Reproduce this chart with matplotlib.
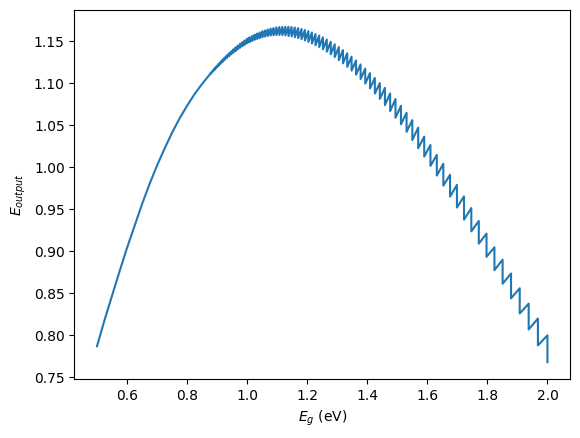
import numpy as np
import matplotlib
matplotlib.use("Agg")
import matplotlib.pyplot as plt

# smooth part of the curve (low band gap)
eg_smooth = [0.500, 0.525, 0.550, 0.575, 0.600, 0.625, 0.650, 0.675, 0.700, 0.725,
             0.750, 0.775, 0.800, 0.825, 0.850, 0.875]
out_smooth = [0.787, 0.818, 0.847, 0.876, 0.904, 0.930, 0.956, 0.980, 1.002, 1.022,
              1.041, 1.058, 1.073, 1.087, 1.099, 1.110]

# sawtooth part: band gap where each drop happens, value just before and just after
eg_drop = [0.8794, 0.8857, 0.8921, 0.8986, 0.9051, 0.9118, 0.9185, 0.9254, 0.9323, 0.9394,
           0.9466, 0.9538, 0.9612, 0.9688, 0.9764, 0.9841, 0.9920,
           1.0000, 1.0081, 1.0164, 1.0248, 1.0333, 1.0420, 1.0508, 1.0598, 1.0690, 1.0783,
           1.0877, 1.0973, 1.1071, 1.1171, 1.1273, 1.1376, 1.1481, 1.1589, 1.1698, 1.1810,
           1.1923, 1.2039, 1.2157, 1.2277, 1.2400, 1.2525, 1.2653, 1.2784, 1.2917, 1.3053,
           1.3191, 1.3333, 1.3478, 1.3626, 1.3778, 1.3933, 1.4091, 1.4253, 1.4419, 1.4588,
           1.4762, 1.4940, 1.5122, 1.5309, 1.5500, 1.5696, 1.5897, 1.6104, 1.6316, 1.6533,
           1.6757, 1.6986, 1.7222, 1.7465, 1.7714, 1.7971, 1.8235, 1.8507, 1.8788, 1.9077,
           1.9375, 1.9683, 2.0000]
out_top = [1.1123, 1.1150, 1.1176, 1.1203, 1.1229, 1.1254, 1.1280, 1.1305, 1.1329, 1.1353,
           1.1377, 1.1401, 1.1422, 1.1445, 1.1467, 1.1487, 1.1507,
           1.1528, 1.1544, 1.1560, 1.1576, 1.1590, 1.1603, 1.1617, 1.1627, 1.1638, 1.1648,
           1.1655, 1.1662, 1.1666, 1.1668, 1.1670, 1.1670, 1.1667, 1.1661, 1.1654, 1.1644,
           1.1632, 1.1618, 1.1602, 1.1584, 1.1565, 1.1544, 1.1518, 1.1491, 1.1461, 1.1429,
           1.1393, 1.1355, 1.1314, 1.1270, 1.1222, 1.1172, 1.1119, 1.1061, 1.1000, 1.0943,
           1.0877, 1.0810, 1.0730, 1.0647, 1.0560, 1.0470, 1.0363, 1.0264, 1.0146, 1.0040,
           0.9910, 0.9790, 0.9652, 0.9514, 0.9360, 0.9210, 0.9047, 0.8900, 0.8736, 0.8560,
           0.8377, 0.8200, 0.8000]
out_bottom = [1.1113, 1.1137, 1.1161, 1.1185, 1.1208, 1.1231, 1.1254, 1.1277, 1.1298, 1.1319,
              1.1341, 1.1362, 1.1380, 1.1401, 1.1420, 1.1438, 1.1455,
              1.1473, 1.1486, 1.1500, 1.1514, 1.1524, 1.1535, 1.1546, 1.1553, 1.1560, 1.1566,
              1.1569, 1.1572, 1.1572, 1.1570, 1.1568, 1.1560, 1.1555, 1.1545, 1.1534, 1.1522,
              1.1507, 1.1490, 1.1471, 1.1450, 1.1428, 1.1402, 1.1374, 1.1343, 1.1309, 1.1273,
              1.1235, 1.1193, 1.1148, 1.1100, 1.1048, 1.0994, 1.0936, 1.0875, 1.0812, 1.0738,
              1.0667, 1.0588, 1.0510, 1.0420, 1.0323, 1.0225, 1.0126, 1.0015, 0.9900, 0.9780,
              0.9650, 0.9520, 0.9376, 0.9237, 0.9090, 0.8934, 0.8775, 0.8614, 0.8440, 0.8260,
              0.8070, 0.7880, 0.7680]

x = list(eg_smooth)
y = list(out_smooth)
for e, t, b in zip(eg_drop, out_top, out_bottom):
    x += [e, e]
    y += [t, b]

fig = plt.figure(figsize=(5.8, 4.38), dpi=100)
ax = fig.add_axes([0.1284, 0.1347, 0.8543, 0.8425])
ax.plot(x, y)
ax.set_xlabel(r'$E_g$ (eV)')
ax.set_ylabel(r'$E_{output}$')

fig.savefig("out.png", dpi=100)
